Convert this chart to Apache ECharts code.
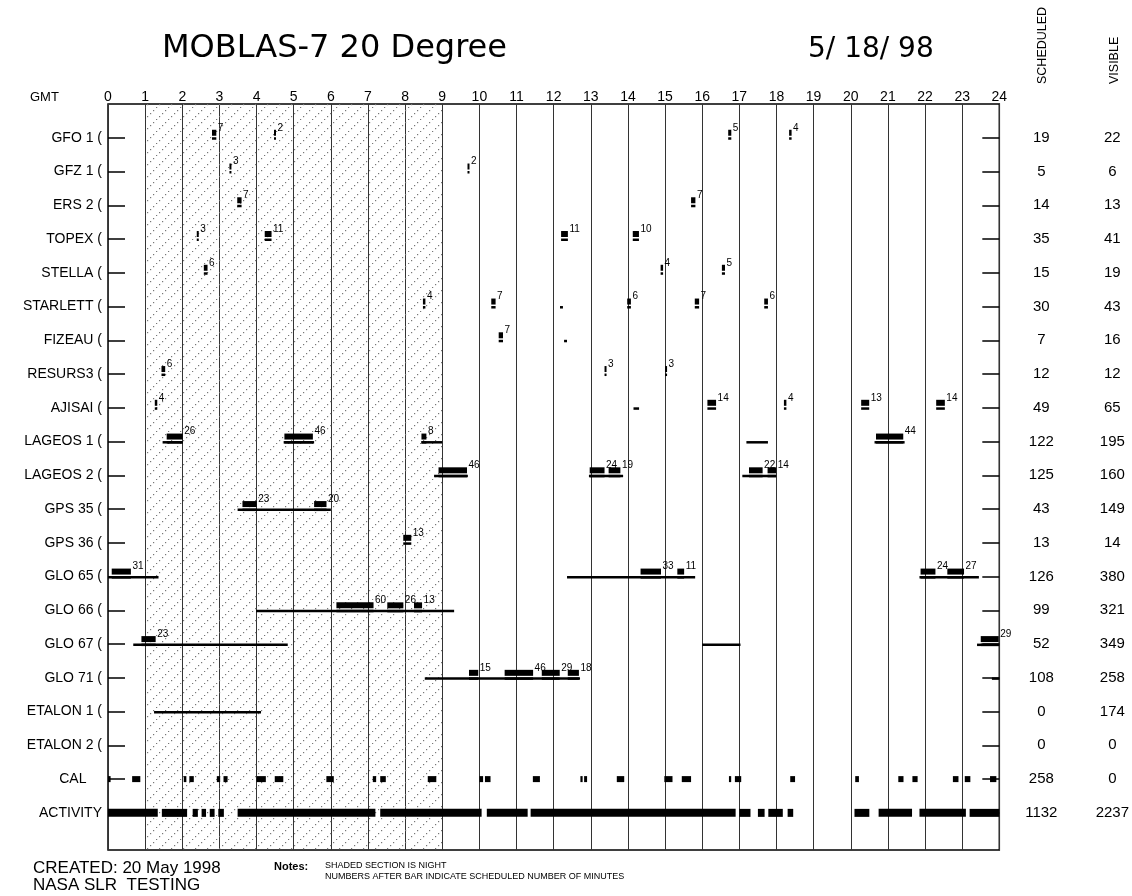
<!DOCTYPE html>
<html>
<head>
<meta charset="utf-8">
<title>MOBLAS-7 20 Degree</title>
<script src="https://cdn.jsdelivr.net/npm/echarts@6/dist/echarts.min.js"></script>
<style>
html, body { margin: 0; padding: 0; background: #fff; }
#main { width: 1132px; height: 896px; }
</style>
</head>
<body>
<div id="main"></div>
<script>
/** ---------------- data ---------------- */
// row names, top to bottom
var rowNames = ['GFO 1', 'GFZ 1', 'ERS 2', 'TOPEX', 'STELLA', 'STARLETT', 'FIZEAU', 'RESURS3', 'AJISAI',
	'LAGEOS 1', 'LAGEOS 2', 'GPS 35', 'GPS 36', 'GLO 65', 'GLO 66', 'GLO 67', 'GLO 71',
	'ETALON 1', 'ETALON 2', 'CAL', 'ACTIVITY'];
var scheduled = [19, 5, 14, 35, 15, 30, 7, 12, 49, 122, 125, 43, 13, 126, 99, 52, 108, 0, 0, 258, 1132];
var visible = [22, 6, 13, 41, 19, 43, 16, 12, 65, 195, 160, 149, 14, 380, 321, 349, 258, 174, 0, 0, 2237];

// night section (GMT hours)
var night = [[1, 9]];

// scheduled passes: [row, start hour, minutes]
var passes = [
	[0, 2.80, 7], [0, 4.47, 2], [0, 16.70, 5], [0, 18.34, 4],
	[1, 3.27, 3], [1, 9.68, 2],
	[2, 3.48, 7], [2, 15.70, 7],
	[3, 2.39, 3], [3, 4.22, 11], [3, 12.20, 11], [3, 14.13, 10],
	[4, 2.58, 6], [4, 14.88, 4], [4, 16.53, 5],
	[5, 8.48, 4], [5, 10.32, 7], [5, 13.98, 6], [5, 15.80, 7], [5, 17.67, 6],
	[6, 10.52, 7],
	[7, 1.44, 6], [7, 13.37, 3], [7, 15.00, 3],
	[8, 1.26, 4], [8, 16.14, 14], [8, 18.20, 4], [8, 20.28, 13], [8, 22.30, 14],
	[9, 1.58, 26], [9, 4.75, 46], [9, 8.44, 8], [9, 20.68, 44],
	[10, 8.90, 46], [10, 12.97, 24], [10, 13.48, 19], [10, 17.26, 22], [10, 17.76, 14],
	[11, 3.62, 23], [11, 5.55, 20],
	[12, 7.95, 13],
	[13, 0.10, 31], [13, 14.34, 33], [13, 15.33, 11], [13, 21.88, 24], [13, 22.60, 27],
	[14, 6.15, 60], [14, 7.52, 26], [14, 8.24, 13],
	[15, 0.90, 23], [15, 23.50, 29],
	[16, 9.72, 15], [16, 10.68, 46], [16, 11.68, 29], [16, 12.38, 18]
];

// visible windows: [row, start hour, end hour]
var visLines = [
	[5, 12.17, 12.25], [6, 12.28, 12.36], [8, 14.15, 14.30],
	[9, 1.47, 2.01], [9, 4.73, 5.55], [9, 8.44, 9.00], [9, 17.19, 17.77], [9, 20.64, 21.45],
	[10, 8.78, 9.69], [10, 12.95, 13.87], [10, 17.08, 17.99],
	[11, 3.49, 6.00],
	[13, 0.00, 1.36], [13, 12.36, 15.81], [13, 21.85, 23.45],
	[14, 3.99, 9.32],
	[15, 0.68, 4.84], [15, 16.00, 17.03], [15, 23.40, 24.00],
	[16, 8.53, 12.71], [16, 23.80, 24.00],
	[17, 1.24, 4.12]
];

// calibrations: [start, end]
var calMarks = [
	[0.00, 0.07], [0.65, 0.87], [2.04, 2.11], [2.19, 2.31], [2.93, 3.02], [3.11, 3.22],
	[4.00, 4.25], [4.49, 4.72], [5.88, 6.08], [7.13, 7.22], [7.33, 7.48], [8.61, 8.84],
	[10.00, 10.10], [10.15, 10.30], [11.44, 11.63], [12.72, 12.78], [12.82, 12.90], [13.70, 13.90],
	[14.98, 15.20], [15.45, 15.70], [16.72, 16.78], [16.88, 17.05], [18.37, 18.50], [20.12, 20.22],
	[21.28, 21.42], [21.66, 21.80], [22.75, 22.90], [23.07, 23.22], [23.75, 23.92]
];

// station activity: [start, end]
var activity = [
	[0.00, 1.34], [1.45, 2.13], [2.28, 2.42], [2.52, 2.64], [2.74, 2.87], [2.97, 3.12],
	[3.49, 7.20], [7.33, 10.06], [10.20, 11.30], [11.38, 16.90], [17.00, 17.30], [17.50, 17.68],
	[17.78, 18.17], [18.30, 18.45], [20.10, 20.50], [20.75, 21.65], [21.85, 23.10], [23.20, 24.00]
];

/** ---------------- chart ---------------- */
var FONT = 'Liberation Sans, Arial, sans-serif';
var rowIdx = [];
for (var i = 0; i < rowNames.length; i++) { rowIdx.push(i); }
var CAL_ROW = 19, ACT_ROW = 20;

// hatch for night section
function hatchPattern() {
	var c = document.createElement('canvas');
	c.width = 12; c.height = 12;
	var ctx = c.getContext('2d');
	ctx.fillStyle = '#777';
	for (var k = 0; k < 12; k += 3) {
		ctx.fillRect(k, 11 - k, 1.2, 1.2);
	}
	return c;
}
var hatch = hatchPattern();

var chart = echarts.init(document.getElementById('main'));

var option = {
	animation: false,
	backgroundColor: '#fff',
	grid: {
		left: 108, right: 132, top: 104, bottom: 46,
		show: true, borderColor: '#000', borderWidth: 1.5, backgroundColor: 'transparent'
	},
	xAxis: {
		type: 'value', position: 'top', min: 0, max: 24, interval: 1,
		axisLine: { show: false },
		axisTick: { show: false },
		axisLabel: { margin: 0, fontSize: 14, color: '#000', fontFamily: FONT },
		splitLine: { show: true, lineStyle: { color: '#333', width: 1 } }
	},
	yAxis: [{
		type: 'value', inverse: true, min: -1, max: 21.1, position: 'left',
		axisLine: { show: false },
		splitLine: { show: false },
		axisTick: { show: true, inside: true, length: 17, customValues: rowIdx, lineStyle: { color: '#000', width: 1.5 } },
		axisLabel: {
			customValues: rowIdx, margin: 6, fontSize: 14, color: '#000', fontFamily: FONT,
			formatter: function (v) {
				if (v >= CAL_ROW) return rowNames[v] + (v === CAL_ROW ? '    ' : '');
				return rowNames[v] + ' (';
			}
		}
	}, {
		type: 'value', inverse: true, min: -1, max: 21.1, position: 'right',
		axisLine: { show: false },
		splitLine: { show: false },
		axisTick: { show: true, inside: true, length: 17, customValues: rowIdx, lineStyle: { color: '#000', width: 1.5 } },
		axisLabel: {
			customValues: rowIdx, margin: 0, color: '#000', fontFamily: FONT,
			formatter: function (v) {
				return '{s|' + scheduled[v] + '}{v|' + visible[v] + '}';
			},
			rich: {
				s: { width: 84, align: 'center', fontSize: 15, fontFamily: FONT },
				v: { width: 58, align: 'center', fontSize: 15, fontFamily: FONT }
			}
		}
	}],
	graphic: [
		{ type: 'text', x: 162, y: 49, style: { text: 'MOBLAS-7 20 Degree', font: '32px DejaVu Sans', fill: '#000', verticalAlign: 'middle' } },
		{ type: 'text', x: 808, y: 50, style: { text: '5/ 18/ 98', font: '28px DejaVu Sans', fill: '#000', verticalAlign: 'middle' } },
		{ type: 'text', x: 30, y: 97, style: { text: 'GMT', font: '13px ' + FONT, fill: '#000', verticalAlign: 'middle' } },
		{ type: 'text', x: 1043, y: 84, rotation: Math.PI / 2, style: { text: 'SCHEDULED', font: '12.5px ' + FONT, fill: '#000', align: 'left', verticalAlign: 'middle' } },
		{ type: 'text', x: 1115, y: 84, rotation: Math.PI / 2, style: { text: 'VISIBLE', font: '12.5px ' + FONT, fill: '#000', align: 'left', verticalAlign: 'middle' } },
		{ type: 'text', x: 33, y: 868, style: { text: 'CREATED: 20 May 1998', font: '17px ' + FONT, fill: '#000', verticalAlign: 'middle' } },
		{ type: 'text', x: 33, y: 885, style: { text: 'NASA SLR  TESTING', font: '17px ' + FONT, fill: '#000', verticalAlign: 'middle' } },
		{ type: 'text', x: 274, y: 867, style: { text: 'Notes:', font: 'bold 11px ' + FONT, fill: '#000', verticalAlign: 'middle' } },
		{ type: 'text', x: 325, y: 866, style: { text: 'SHADED SECTION IS NIGHT', font: '9px ' + FONT, fill: '#000', verticalAlign: 'middle' } },
		{ type: 'text', x: 325, y: 877, style: { text: 'NUMBERS AFTER BAR INDICATE SCHEDULED NUMBER OF MINUTES', font: '9px ' + FONT, fill: '#000', verticalAlign: 'middle' } }
	],
	series: [{
		// night hatch
		type: 'custom', z: 1, silent: true, clip: false,
		data: night,
		encode: { x: [0, 1] },
		renderItem: function (params, api) {
			var p0 = api.coord([api.value(0), -1]);
			var p1 = api.coord([api.value(1), 21.1]);
			return {
				type: 'rect',
				shape: { x: p0[0], y: p0[1], width: p1[0] - p0[0], height: p1[1] - p0[1] },
				style: { fill: { image: hatch, repeat: 'repeat' } }
			};
		}
	}, {
		// visible windows
		type: 'custom', z: 3, silent: true, clip: false,
		data: visLines,
		encode: { x: [1, 2], y: 0 },
		renderItem: function (params, api) {
			var p0 = api.coord([api.value(1), api.value(0)]);
			var p1 = api.coord([api.value(2), api.value(0)]);
			return {
				type: 'rect',
				shape: { x: p0[0], y: p0[1] - 0.5, width: Math.max(p1[0] - p0[0], 2), height: 2.5 },
				style: { fill: '#000' }
			};
		}
	}, {
		// scheduled passes with minutes
		type: 'custom', z: 4, silent: true, clip: false,
		data: passes,
		encode: { x: 1, y: 0 },
		renderItem: function (params, api) {
			var row = api.value(0), s = api.value(1), m = api.value(2);
			var p0 = api.coord([s, row]);
			var p1 = api.coord([s + m / 60, row]);
			var w = Math.max(p1[0] - p0[0], 2);
			return {
				type: 'group',
				children: [{
					type: 'rect',
					shape: { x: p0[0], y: p0[1] - 8, width: w, height: 6 },
					style: { fill: '#000' }
				}, {
					type: 'rect',
					shape: { x: p0[0], y: p0[1] - 0.5, width: w, height: 2.5 },
					style: { fill: '#000' }
				}, {
					type: 'text',
					x: p0[0] + w + 1.5, y: p0[1] - 10,
					style: { text: String(m), font: '10px ' + FONT, fill: '#000', verticalAlign: 'middle' }
				}]
			};
		}
	}, {
		// calibrations
		type: 'custom', z: 4, silent: true, clip: false,
		data: calMarks,
		encode: { x: [0, 1] },
		renderItem: function (params, api) {
			var p0 = api.coord([api.value(0), CAL_ROW]);
			var p1 = api.coord([api.value(1), CAL_ROW]);
			return {
				type: 'rect',
				shape: { x: p0[0], y: p0[1] - 3, width: Math.max(p1[0] - p0[0], 2), height: 6 },
				style: { fill: '#000' }
			};
		}
	}, {
		// activity
		type: 'custom', z: 4, silent: true, clip: false,
		data: activity,
		encode: { x: [0, 1] },
		renderItem: function (params, api) {
			var p0 = api.coord([api.value(0), ACT_ROW]);
			var p1 = api.coord([api.value(1), ACT_ROW]);
			return {
				type: 'rect',
				shape: { x: p0[0], y: p0[1] - 4, width: Math.max(p1[0] - p0[0], 2), height: 8 },
				style: { fill: '#000' }
			};
		}
	}]
};

chart.setOption(option);
</script>
</body>
</html>
